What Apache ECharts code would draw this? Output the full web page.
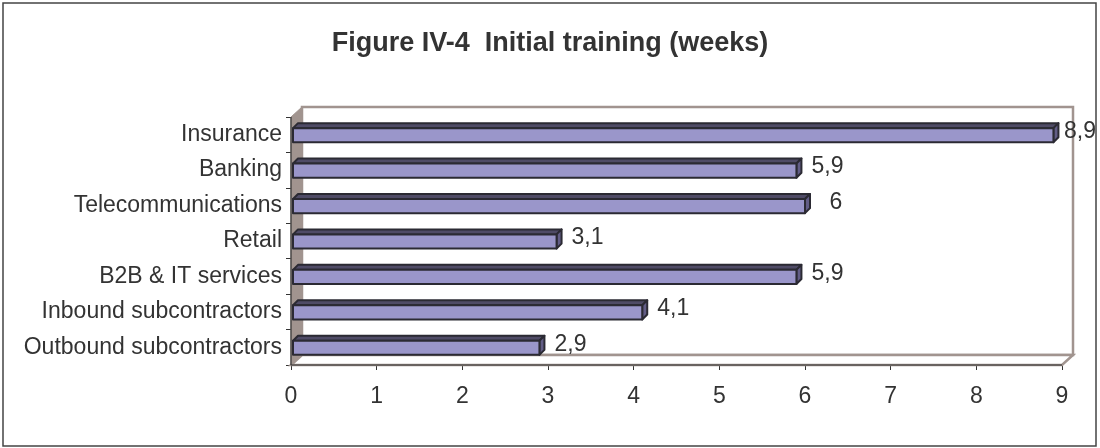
<!DOCTYPE html>
<html>
<head>
<meta charset="utf-8">
<script src="https://cdn.jsdelivr.net/npm/echarts@6/dist/echarts.min.js"></script>
<style>
html,body{margin:0;padding:0;background:#fff;}
#chart{width:1100px;height:448px;}
</style>
</head>
<body>
<div id="chart"></div>
<script>
const titleText = 'Figure IV-4  Initial training (weeks)';
const categories = ['Insurance','Banking','Telecommunications','Retail','B2B & IT services','Inbound subcontractors','Outbound subcontractors'];
const values = [8.9, 5.9, 6, 3.1, 5.9, 4.1, 2.9];
const valueLabels = ['8,9','5,9','6','3,1','5,9','4,1','2,9'];
const xTicks = [0,1,2,3,4,5,6,7,8,9];

const FONT = '"Liberation Sans", Arial, Helvetica, sans-serif';
const WALL = '#a1948f';
const BAR_FRONT = '#9a96ca';
const BAR_TOP = '#4f4b66';
const BAR_SIDE = '#625d86';
const BAR_STROKE = '#2b2a33';
const WD = 11, WH = 10; // wall depth offset
const BD = 5; // bar depth

const chart = echarts.init(document.getElementById('chart'), null, {renderer:'canvas'});

function renderWalls(params, api){
  const cs = params.coordSys;
  const x0 = cs.x, y0 = cs.y, x1 = cs.x + cs.width, y1 = cs.y + cs.height;
  return {
    type:'group',
    children:[
      {type:'rect', shape:{x:x0+WD, y:y0-WH, width:cs.width, height:cs.height},
       style:{fill:'#fff', stroke:WALL, lineWidth:2.5}},
      {type:'polygon', shape:{points:[[x0,y0],[x0+WD,y0-WH],[x0+WD,y1-WH],[x0,y1]]},
       style:{fill:WALL, stroke:WALL, lineWidth:1}},
      {type:'polygon', shape:{points:[[x0,y1],[x0+WD,y1-WH],[x1+WD,y1-WH],[x1,y1]]},
       style:{fill:'#fff', stroke:WALL, lineWidth:2.5}},
      {type:'line', shape:{x1:x0, y1:y0, x2:x0, y2:y1}, style:{stroke:'#333', lineWidth:1.2}},
      {type:'line', shape:{x1:x0, y1:y1, x2:x1, y2:y1}, style:{stroke:'#333', lineWidth:1.2}}
    ]
  };
}

function renderBar(params, api){
  const cs = params.coordSys;
  const v = api.value(0), c = api.value(1);
  const s = api.coord([0, c]);
  const e = api.coord([v, c]);
  const band = api.size([0, 1])[1];
  const h = band * 0.4;
  const xa = s[0] + 2, xb = e[0];
  const ya = e[1] - h/2 + 0.5, yb = ya + h;
  const st = {stroke:BAR_STROKE, lineWidth:2, lineJoin:'round'};
  const lx = Math.min(xb + 31, cs.x + cs.width + 18);
  return {
    type:'group',
    children:[
      {type:'polygon', shape:{points:[[xa,ya],[xa+BD,ya-BD],[xb+BD,ya-BD],[xb,ya]]},
       style:Object.assign({fill:BAR_TOP}, st)},
      {type:'polygon', shape:{points:[[xb,ya],[xb+BD,ya-BD],[xb+BD,yb-BD],[xb,yb]]},
       style:Object.assign({fill:BAR_SIDE}, st)},
      {type:'rect', shape:{x:xa, y:ya, width:xb-xa, height:h},
       style:Object.assign({fill:BAR_FRONT}, st)},
      {type:'text', x:lx, y:e[1] - 3,
       style:{text:valueLabels[params.dataIndex], fill:'#333', font:'23px ' + FONT,
              textAlign:'center', textVerticalAlign:'middle'}}
    ]
  };
}

chart.setOption({
  animation:false,
  backgroundColor:'#fff',
  title:{text:titleText, left:'center', top:25,
         textStyle:{fontFamily:FONT, fontSize:27, fontWeight:'bold', color:'#333'}},
  graphic:[{type:'rect', shape:{x:3, y:3, width:1093, height:443},
            style:{fill:'none', stroke:'#444', lineWidth:1.5}, z:100}],
  grid:{left:291, right:38, top:117, bottom:83, containLabel:false},
  xAxis:{type:'value', min:0, max:9, interval:1,
         axisLine:{show:false},
         axisTick:{show:true, length:5, lineStyle:{color:'#333'}},
         splitLine:{show:false},
         axisLabel:{margin:20, fontFamily:FONT, fontSize:23, color:'#333',
                    formatter:(v)=> xTicks.includes(v) ? String(v) : ''}},
  yAxis:{type:'category', data:categories, inverse:true,
         axisLine:{show:false},
         axisTick:{show:true, length:5, inside:false, lineStyle:{color:'#333'}},
         splitLine:{show:false},
         axisLabel:{margin:9, fontFamily:FONT, fontSize:23, color:'#333'}},
  series:[
    {type:'custom', z:1, renderItem:renderWalls, data:[[0,0]], silent:true},
    {type:'custom', z:3, renderItem:renderBar,
     encode:{x:0, y:1},
     data:values.map((v,i)=>[v,i])}
  ]
});
</script>
</body>
</html>
